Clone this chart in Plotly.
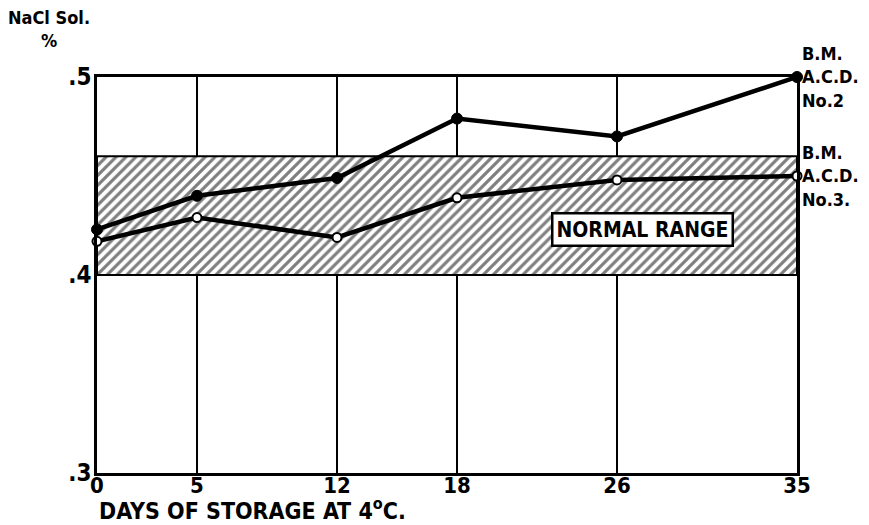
import plotly.graph_objects as go

days = [0, 5, 12, 18, 26, 35]
acd_no2 = [0.423, 0.440, 0.449, 0.479, 0.470, 0.500]
acd_no3 = [0.417, 0.429, 0.419, 0.439, 0.448, 0.450]
normal_low = 0.40
normal_high = 0.46
x_ticks = [0, 5, 12, 18, 26, 35]
x_labels = ["0", "5", "12", "18", "26", "35"]
y_ticks = [0.3, 0.4, 0.5]
y_labels = [".3", ".4", ".5"]

FONT = "Liberation Sans Narrow, DejaVu Sans Condensed, DejaVu Sans, sans-serif"
W, H = 869, 525
L, R, T, B = 97, 72, 77, 52
PW, PH = W - L - R, H - T - B

fig = go.Figure()

# Normal range band (hatched)
fig.add_trace(go.Scatter(
    x=[days[0], days[-1], days[-1], days[0], days[0]],
    y=[normal_low, normal_low, normal_high, normal_high, normal_low],
    mode="lines", fill="toself",
    line=dict(color="black", width=2),
    fillcolor="white",
    fillpattern=dict(shape="/", fgcolor="black", bgcolor="white", size=7, solidity=0.45),
    hoverinfo="skip", showlegend=False,
))

fig.add_trace(go.Scatter(
    x=days, y=acd_no2, mode="lines+markers",
    line=dict(color="black", width=4.5),
    marker=dict(size=11, color="black", line=dict(color="black", width=1)),
    cliponaxis=False, showlegend=False, name="B.M. A.C.D. No.2",
))
fig.add_trace(go.Scatter(
    x=days, y=acd_no3, mode="lines+markers",
    line=dict(color="black", width=4.5),
    marker=dict(size=9, color="white", line=dict(color="black", width=2)),
    cliponaxis=False, showlegend=False, name="B.M. A.C.D. No.3",
))

fig.add_annotation(x=27.25, y=0.4232, xref="x", yref="y", text="<b>NORMAL RANGE</b>",
                   showarrow=False, bgcolor="white", bordercolor="black", borderwidth=2.5,
                   borderpad=3, font=dict(family=FONT, size=21, color="black"))

fig.add_annotation(x=35, y=acd_no2[-1], xref="x", yref="y", xanchor="left", yanchor="middle",
                   xshift=3, align="left", text="<b>B.M.<br>A.C.D.<br>No.2</b>", showarrow=False,
                   font=dict(family=FONT, size=18, color="black"))
fig.add_annotation(x=35, y=acd_no3[-1], xref="x", yref="y", xanchor="left", yanchor="middle",
                   xshift=3, align="left", text="<b>B.M.<br>A.C.D.<br>No.3.</b>", showarrow=False,
                   font=dict(family=FONT, size=18, color="black"))

fig.add_annotation(x=(6 - L) / PW, y=1 + (T - 5) / PH, xref="paper", yref="paper",
                   xanchor="left", yanchor="top",
                   align="center", text="<b>NaCl Sol.<br>%</b>", showarrow=False,
                   font=dict(family=FONT, size=18, color="black"))

fig.add_annotation(x=0, y=0, xref="paper", yref="paper", xanchor="left", yanchor="middle",
                   yshift=-36, text="<b>DAYS OF STORAGE AT 4<sup>o</sup>C.</b>", showarrow=False,
                   font=dict(family=FONT, size=23, color="black"))

fig.update_layout(
    width=W, height=H,
    margin=dict(l=L, r=R, t=T, b=B, autoexpand=False),
    paper_bgcolor="white", plot_bgcolor="white",
    font=dict(family=FONT, color="black"),
    xaxis=dict(range=[0, 35], tickvals=x_ticks, ticktext=x_labels,
               showgrid=True, gridcolor="black", gridwidth=2,
               showline=True, linecolor="black", linewidth=2.5, mirror=True,
               zeroline=False, ticks="", ticklabelstandoff=-9,
               tickfont=dict(family=FONT, size=22, color="black", weight="bold")),
    yaxis=dict(range=[0.3, 0.5], tickvals=y_ticks, ticktext=y_labels,
               showgrid=False, showline=True, linecolor="black", linewidth=2.5, mirror=True,
               zeroline=False, ticks="", ticklabelstandoff=-2,
               tickfont=dict(family=FONT, size=24, color="black", weight="bold")),
)

fig.write_html("out.html", config={"displayModeBar": False},
               post_script="document.body.style.margin='0';")
